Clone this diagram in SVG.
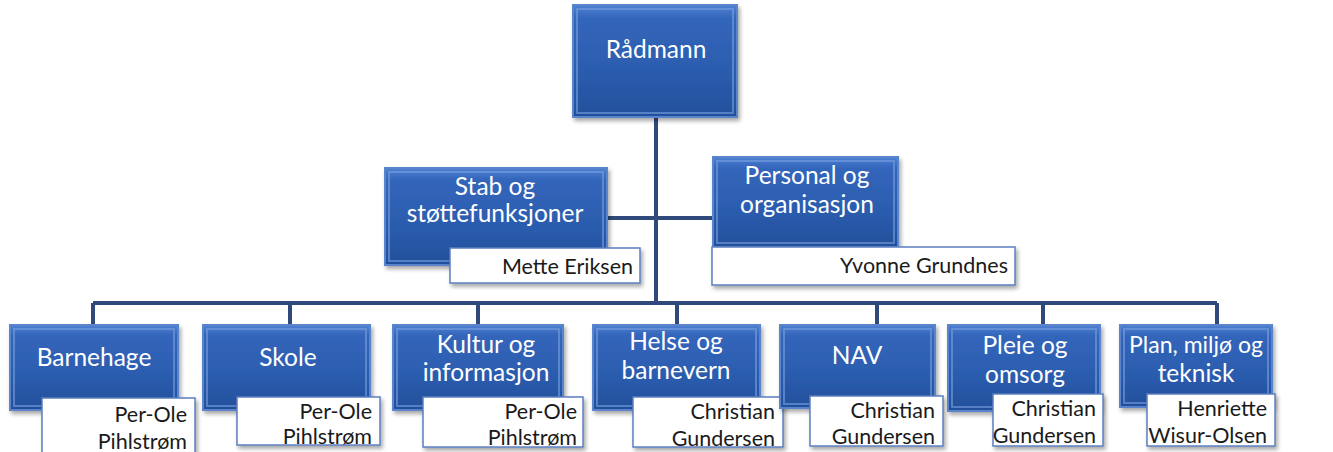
<svg xmlns="http://www.w3.org/2000/svg" width="1333" height="452" viewBox="0 0 1333 452">
<defs>
<linearGradient id="bg" x1="0" y1="0" x2="0" y2="1">
<stop offset="0" stop-color="#4f80d2"/>
<stop offset="0.12" stop-color="#3366bb"/>
<stop offset="0.6" stop-color="#2b5cae"/>
<stop offset="1" stop-color="#234f9a"/>
</linearGradient>
<filter id="sh" x="-10%" y="-10%" width="125%" height="130%">
<feGaussianBlur in="SourceAlpha" stdDeviation="2"/>
<feOffset dx="2" dy="3"/>
<feComponentTransfer><feFuncA type="linear" slope="0.35"/></feComponentTransfer>
<feMerge><feMergeNode/><feMergeNode in="SourceGraphic"/></feMerge>
</filter>
</defs>
<style>
.box{fill:url(#bg);stroke:#5a85cc;stroke-width:2;filter:url(#sh)}
.bev{fill:none;stroke:#7aa0e0;stroke-width:2;opacity:0.6}
.nm{fill:#ffffff;stroke:#5b7fc0;stroke-width:1.5;filter:url(#sh)}
.t{font-family:Lato,"Open Sans",sans-serif;font-size:24.5px;fill:#ffffff;text-anchor:middle}
.n{font-family:Lato,"Open Sans",sans-serif;font-size:21.5px;fill:#1a1a1a;text-anchor:end}
.c{fill:none;stroke:#2f4a7a;stroke-width:4}
</style>
<g id="connectors">
<path class="c" d="M656 117 V303"/>
<path class="c" d="M607 218 H713"/>
<path class="c" d="M93 303 H1217"/>
<path class="c" d="M93 303 V325 M290 303 V325 M478 303 V325 M677 303 V325 M877 303 V325 M1043 303 V325 M1217 303 V325"/>
</g>
<g id="radmann">
<rect class="box" x="573" y="5" width="164" height="112"/>
<rect class="bev" x="577" y="9" width="156" height="104"/>
<text class="t" x="656" y="58">Rådmann</text>
</g>
<g id="stab">
<rect class="box" x="385" y="168" width="222" height="97"/>
<rect class="bev" x="389" y="172" width="214" height="89"/>
<text class="t" x="495" y="195">Stab og</text>
<text class="t" x="495" y="222">støttefunksjoner</text>
<rect class="nm" x="450" y="248" width="190" height="35"/>
<text class="n" x="633" y="274">Mette Eriksen</text>
</g>
<g id="personal">
<rect class="box" x="713" y="157" width="185" height="90"/>
<rect class="bev" x="717" y="161" width="177" height="82"/>
<text class="t" x="807" y="184">Personal og</text>
<text class="t" x="807" y="213">organisasjon</text>
<rect class="nm" x="712" y="247" width="303" height="38"/>
<text class="n" x="1008" y="273">Yvonne Grundnes</text>
</g>
<g id="barnehage">
<rect class="box" x="10" y="325" width="168" height="85"/>
<rect class="bev" x="14" y="329" width="160" height="77"/>
<text class="t" x="94" y="366">Barnehage</text>
<rect class="nm" x="42" y="398" width="153" height="58"/>
<text class="n" x="187" y="422">Per-Ole</text>
<text class="n" x="187" y="449">Pihlstrøm</text>
</g>
<g id="skole">
<rect class="box" x="203" y="325" width="167" height="85"/>
<rect class="bev" x="207" y="329" width="159" height="77"/>
<text class="t" x="288" y="366">Skole</text>
<rect class="nm" x="237" y="397" width="143" height="48"/>
<text class="n" x="372" y="419">Per-Ole</text>
<text class="n" x="372" y="444">Pihlstrøm</text>
</g>
<g id="kultur">
<rect class="box" x="393" y="325" width="170" height="85"/>
<rect class="bev" x="397" y="329" width="162" height="77"/>
<text class="t" x="486" y="353">Kultur og</text>
<text class="t" x="486" y="381">informasjon</text>
<rect class="nm" x="423" y="397" width="160" height="50"/>
<text class="n" x="577" y="419">Per-Ole</text>
<text class="n" x="577" y="445">Pihlstrøm</text>
</g>
<g id="helse">
<rect class="box" x="593" y="325" width="167" height="85"/>
<rect class="bev" x="597" y="329" width="159" height="77"/>
<text class="t" x="676" y="350">Helse og</text>
<text class="t" x="676" y="379">barnevern</text>
<rect class="nm" x="633" y="397" width="150" height="50"/>
<text class="n" x="775" y="419">Christian</text>
<text class="n" x="775" y="446">Gundersen</text>
</g>
<g id="nav">
<rect class="box" x="780" y="325" width="155" height="83"/>
<rect class="bev" x="784" y="329" width="147" height="75"/>
<text class="t" x="857" y="364">NAV</text>
<rect class="nm" x="810" y="396" width="133" height="50"/>
<text class="n" x="935" y="418">Christian</text>
<text class="n" x="935" y="444">Gundersen</text>
</g>
<g id="pleie">
<rect class="box" x="948" y="325" width="152" height="86"/>
<rect class="bev" x="952" y="329" width="144" height="78"/>
<text class="t" x="1025" y="354">Pleie og</text>
<text class="t" x="1025" y="383">omsorg</text>
<rect class="nm" x="993" y="394" width="110" height="52"/>
<text class="n" x="1096" y="416">Christian</text>
<text class="n" x="1096" y="443">Gundersen</text>
</g>
<g id="plan">
<rect class="box" x="1120" y="325" width="152" height="82"/>
<rect class="bev" x="1124" y="329" width="144" height="74"/>
<text class="t" x="1196" y="353" style="font-size:23px">Plan, miljø og</text>
<text class="t" x="1196" y="382">teknisk</text>
<rect class="nm" x="1147" y="394" width="128" height="52"/>
<text class="n" x="1267" y="416">Henriette</text>
<text class="n" x="1267" y="443">Wisur-Olsen</text>
</g>
</svg>
